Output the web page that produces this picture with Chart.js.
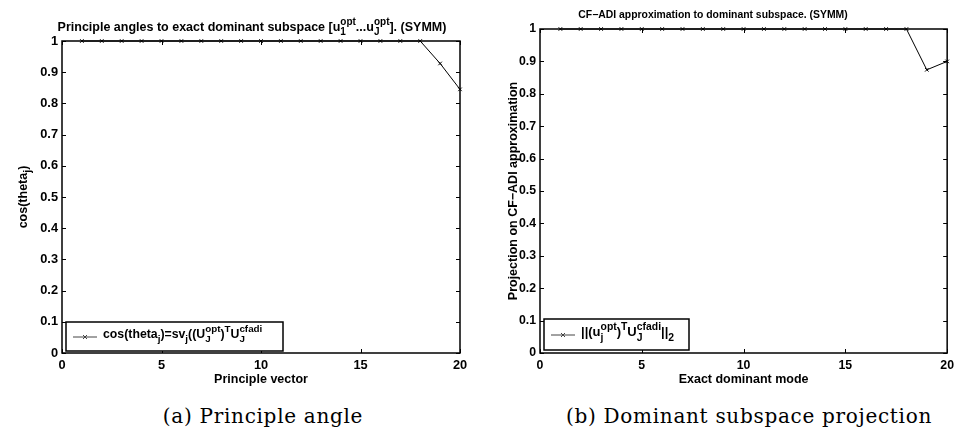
<!DOCTYPE html>
<html>
<head>
<meta charset="utf-8">
<script src="https://cdn.jsdelivr.net/npm/chart.js@4.4.0/dist/chart.umd.min.js"></script>
<style>
body{margin:0;background:#fff;width:959px;height:433px;position:relative;overflow:hidden}
canvas{position:absolute;top:0}
#c1{left:0}
#c2{left:480px}
.cap{position:absolute;font-family:"DejaVu Serif";font-size:20px;letter-spacing:0.7px;color:#000;white-space:nowrap;transform:translateX(-50%)}
</style>
</head>
<body>
<canvas id="c1" width="480" height="400"></canvas>
<canvas id="c2" width="479" height="400"></canvas>
<div class="cap" style="left:263px;top:404px">(a) Principle angle</div>
<div class="cap" style="left:749px;top:404px">(b) Dominant subspace projection</div>
<script>
// data
const modes = [1,2,3,4,5,6,7,8,9,10,11,12,13,14,15,16,17,18,19,20];
const cosTheta = [1,1,1,1,1,1,1,1,1,1,1,1,1,1,1,1,1,1,0.928,0.845];
const projNorm = [1,1,1,1,1,1,1,1,1,1,1,1,1,1,1,1,1,1,0.874,0.900];
const xTicks = [0,5,10,15,20];
const yTicks = [0,0.1,0.2,0.3,0.4,0.5,0.6,0.7,0.8,0.9,1];

const FONT = '"Liberation Sans", Arial, sans-serif';

// segments: string = normal text, {b:..,p:..} = sub / sup
function fnt(s){ return 'bold ' + s + 'px ' + FONT; }
function segWidth(ctx, seg, f, k){
    if (typeof seg === 'string'){ ctx.font = fnt(f); return ctx.measureText(seg).width; }
    ctx.font = fnt(f*k);
    let wb = seg.b ? ctx.measureText(seg.b).width : 0;
    let wp = seg.p ? ctx.measureText(seg.p).width : 0;
    return Math.max(wb, wp);
}
function richWidth(ctx, segs, f, k){
    let w = 0;
    segs.forEach(s => w += segWidth(ctx, s, f, k));
    return w;
}
function drawRich(ctx, segs, x, y, f, k){
    ctx.fillStyle = '#000';
    ctx.textBaseline = 'alphabetic';
    ctx.textAlign = 'left';
    segs.forEach(s => {
        let w = segWidth(ctx, s, f, k);
        if (typeof s === 'string'){
            ctx.font = fnt(f);
            ctx.fillText(s, x, y);
        } else {
            ctx.font = fnt(f*k);
            if (s.b) ctx.fillText(s.b, x, y + f*0.35);
            if (s.p) ctx.fillText(s.p, x, y - f*0.45);
        }
        x += w;
    });
}

const decorPlugin = {
    id: 'decor',
    afterDraw(chart, args, o){
        const ctx = chart.ctx;
        const a = chart.chartArea;
        const xs = chart.scales.x, ys = chart.scales.y;
        ctx.save();
        // box and inward ticks
        ctx.strokeStyle = '#000';
        ctx.lineWidth = 1.5;
        ctx.strokeRect(a.left, a.top, a.right - a.left, a.bottom - a.top);
        ctx.lineWidth = 1;
        ctx.beginPath();
        xTicks.forEach(v => {
            let px = Math.round(xs.getPixelForValue(v)) + 0.5;
            ctx.moveTo(px, a.bottom); ctx.lineTo(px, a.bottom - 4);
            ctx.moveTo(px, a.top); ctx.lineTo(px, a.top + 4);
        });
        yTicks.forEach(v => {
            let py = Math.round(ys.getPixelForValue(v)) + 0.5;
            ctx.moveTo(a.left, py); ctx.lineTo(a.left + 4, py);
            ctx.moveTo(a.right, py); ctx.lineTo(a.right - 4, py);
        });
        ctx.stroke();

        // title
        let tw = richWidth(ctx, o.title, o.titleSize, 0.8);
        drawRich(ctx, o.title, o.titleX - tw/2, o.titleY, o.titleSize, 0.8);

        // y title
        ctx.save();
        ctx.translate(o.yTitleX, (a.top + a.bottom)/2);
        ctx.rotate(-Math.PI/2);
        let yw = richWidth(ctx, o.yTitle, 12.5, 0.85);
        drawRich(ctx, o.yTitle, -yw/2, 0, 12.5, 0.85);
        ctx.restore();

        // legend
        const L = o.legend;
        ctx.fillStyle = '#fff';
        ctx.fillRect(L.x, L.y, L.w, L.h);
        ctx.strokeStyle = '#000';
        ctx.lineWidth = 1.5;
        ctx.strokeRect(L.x, L.y, L.w, L.h);
        ctx.lineWidth = 1;
        ctx.strokeStyle = '#444';
        ctx.beginPath();
        ctx.moveTo(L.x + 7, L.ly); ctx.lineTo(L.x + 31, L.ly);
        let mx = L.x + 19;
        ctx.moveTo(mx - 2, L.ly - 2); ctx.lineTo(mx + 2, L.ly + 2);
        ctx.moveTo(mx - 2, L.ly + 2); ctx.lineTo(mx + 2, L.ly - 2);
        ctx.stroke();
        drawRich(ctx, L.text, L.x + 37, L.ly + 1, L.size, L.k);
        ctx.restore();
    }
};

function makeChart(id, values, pad, xTitle, tickSize, decor){
    const ctx = document.getElementById(id).getContext('2d');
    return new Chart(ctx, {
        type: 'line',
        data: {
            labels: modes,
            datasets: [{
                data: modes.map((m, i) => ({x: m, y: values[i]})),
                borderColor: '#000',
                borderWidth: 1,
                pointStyle: 'crossRot',
                pointRadius: 2.5,
                pointBorderColor: '#000',
                pointBorderWidth: 1,
                tension: 0,
                clip: false
            }]
        },
        options: {
            responsive: false,
            animation: false,
            layout: { padding: pad },
            plugins: { legend: { display: false }, tooltip: { enabled: false }, decor: decor },
            scales: {
                x: {
                    type: 'linear', min: 0, max: 20,
                    afterBuildTicks: s => { s.ticks = xTicks.map(v => ({value: v})); },
                    afterFit: s => { s.height = 400 - 353 - pad.bottom; },
                    grid: { display: false, drawTicks: false },
                    border: { display: false },
                    ticks: { color: '#000', padding: 5, font: { family: FONT, size: tickSize, weight: 'bold' }, maxRotation: 0 },
                    title: { display: true, text: xTitle, color: '#000', padding: { top: 0, bottom: 4 }, font: { family: FONT, size: 12.5, weight: 'bold', lineHeight: 1.2 } }
                },
                y: {
                    type: 'linear', min: 0, max: 1,
                    afterBuildTicks: s => { s.ticks = yTicks.map(v => ({value: v})); },
                    afterFit: s => { s.width = pad.axisW; },
                    grid: { display: false, drawTicks: false },
                    border: { display: false },
                    ticks: { color: '#000', padding: 4, font: { family: FONT, size: tickSize, weight: 'bold' },
                        callback: v => String(v) }
                }
            }
        },
        plugins: [decorPlugin]
    });
}

makeChart('c1', cosTheta, {left: 0, top: 41, right: 20, bottom: 8.5, axisW: 62}, 'Principle vector', 12.8, {
    title: ['Principle angles to exact dominant subspace [u', {b:'1', p:'opt'}, '...u', {b:'J', p:'opt'}, ']. (SYMM)'],
    titleSize: 12.5, titleX: 252, titleY: 31,
    yTitle: ['cos(theta', {b:'j'}, ')'],
    yTitleX: 27,
    legend: { x: 66, y: 322, w: 217, h: 29, ly: 337, size: 12.3, k: 0.8,
        text: ['cos(theta', {b:'j'}, ')=sv', {b:'j'}, '((U', {b:'J', p:'opt'}, ')', {p:'T'}, 'U', {b:'J', p:'cfadi'}] }
});

makeChart('c2', projNorm, {left: 0, top: 29, right: 6, bottom: 8.5, axisW: 60}, 'Exact dominant mode', 12.3, {
    title: ['CF\u2212ADI approximation to dominant subspace. (SYMM)'],
    titleSize: 10.4, titleX: 233, titleY: 18,
    yTitle: ['Projection on CF\u2212ADI approximation'],
    yTitleX: 37,
    legend: { x: 64, y: 319, w: 145, h: 31, ly: 335, size: 13, k: 0.8,
        text: ['||(u', {b:'j', p:'opt'}, ')', {p:'T'}, 'U', {b:'J', p:'cfadi'}, '||', {b:'2'}] }
});
</script>
</body>
</html>
